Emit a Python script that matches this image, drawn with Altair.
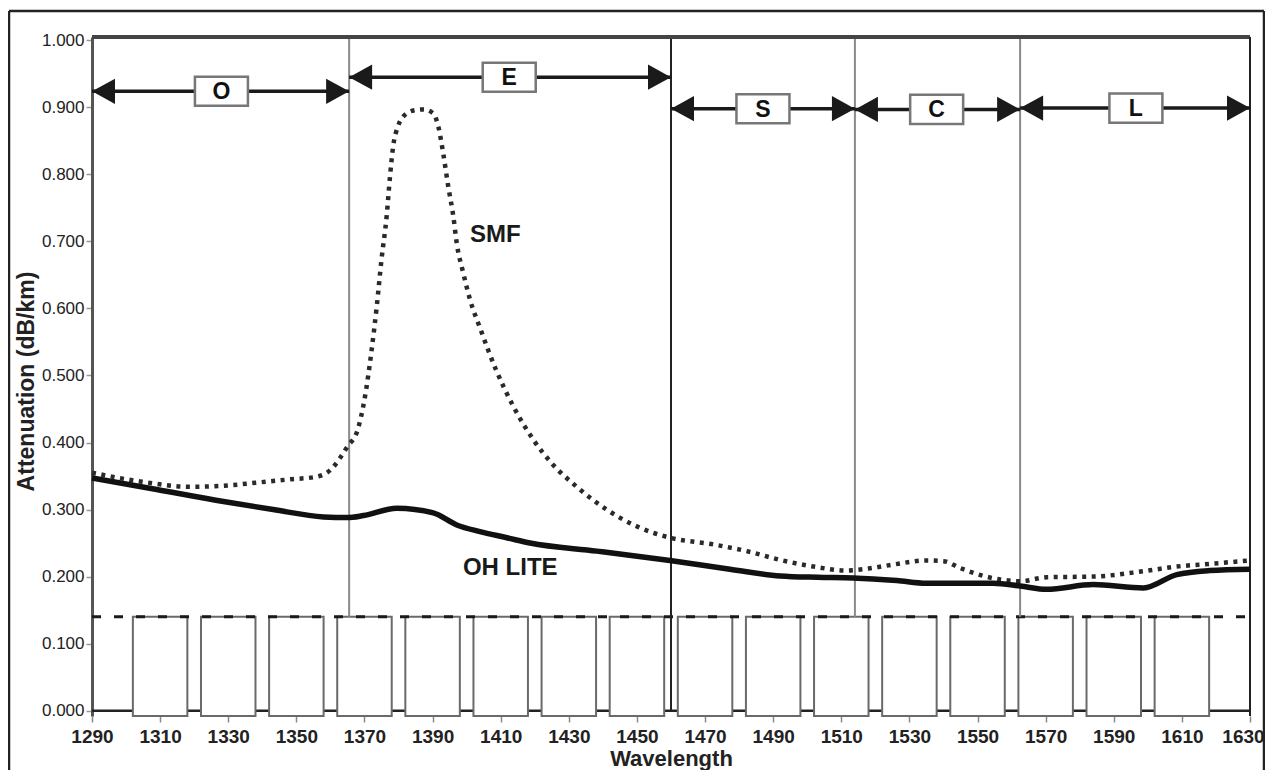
import altair as alt
import pandas as pd

# ---------------- data ----------------
x_ticks = [1290, 1310, 1330, 1350, 1370, 1390, 1410, 1430, 1450, 1470,
           1490, 1510, 1530, 1550, 1570, 1590, 1610, 1630]
y_ticks = [0.0, 0.1, 0.2, 0.3, 0.4, 0.5, 0.6, 0.7, 0.8, 0.9, 1.0]

# SMF (dotted curve)
smf_wl = [1290, 1304, 1319, 1330, 1338, 1348, 1356, 1360, 1365, 1368, 1370,
          1372, 1373.6, 1375, 1376.5, 1377.5, 1378.4, 1379.8, 1382.4, 1385,
          1387.3, 1390.2, 1391.7, 1393.1, 1394.6, 1396.1, 1397.1, 1399, 1401,
          1404, 1408.5, 1413.7, 1419.6, 1425, 1432.3, 1441.1, 1449.9, 1459.7,
          1472.4, 1482.2, 1492, 1501.8, 1511.6, 1518, 1525.3, 1535, 1540,
          1544.8, 1551.7, 1557.6, 1562.5, 1570.3, 1584, 1598.7, 1608.5,
          1618.2, 1630]
smf_att = [0.355, 0.342, 0.334, 0.336, 0.340, 0.345, 0.349, 0.359, 0.394,
           0.419, 0.464, 0.534, 0.603, 0.673, 0.737, 0.797, 0.841, 0.871,
           0.891, 0.896, 0.897, 0.891, 0.871, 0.832, 0.782, 0.737, 0.697,
           0.653, 0.613, 0.570, 0.510, 0.454, 0.404, 0.369, 0.334, 0.300,
           0.275, 0.258, 0.248, 0.238, 0.225, 0.215, 0.209, 0.212, 0.218,
           0.224, 0.223, 0.213, 0.201, 0.195, 0.193, 0.199, 0.200, 0.208,
           0.215, 0.219, 0.224]

# OH LITE (solid curve)
oh_wl = [1290, 1309, 1328.6, 1343.2, 1358, 1365, 1369.7, 1379.5, 1390.2,
         1397.1, 1403.9, 1411.8, 1418.6, 1438.2, 1459.7, 1477.3, 1492, 1503,
         1513.5, 1526.3, 1535, 1554.6, 1562.5, 1570.3, 1584, 1598.7, 1608.5,
         1618.2, 1630]
oh_att = [0.347, 0.330, 0.312, 0.300, 0.289, 0.288, 0.291, 0.302, 0.295,
          0.277, 0.267, 0.258, 0.250, 0.238, 0.224, 0.211, 0.201, 0.199,
          0.198, 0.194, 0.190, 0.190, 0.186, 0.181, 0.188, 0.183, 0.203,
          0.209, 0.211]

# spectral bands
band_names = ["O", "E", "S", "C", "L"]
band_start = [1290, 1365.5, 1460, 1514, 1562.5]
band_end = [1365.5, 1460, 1514, 1562.5, 1630]
band_level = [0.924, 0.945, 0.898, 0.897, 0.899]
band_label_wl = [1328, 1412.5, 1487, 1538, 1596.5]

# band boundary lines
boundaries = [1365.5, 1460, 1514, 1562.5]
boundary_bottom = [0.14, 0.0, 0.14, 0.14]
boundary_top = [1.005, 1.005, 1.005, 1.005]

# CWDM channels
channels = [1310, 1330, 1350, 1370, 1390, 1410, 1430, 1450, 1470, 1490,
            1510, 1530, 1550, 1570, 1590, 1610]
channel_top = 0.14

# curve labels
curve_names = ["SMF", "OH LITE"]
curve_label_wl = [1401.0, 1398.9]
curve_label_att = [0.709, 0.213]

# ---------------- styling ----------------
FONT = "Liberation Sans, Arial, Helvetica, sans-serif"
W, H = 1158, 679
X_DOMAIN = [1290, 1630]
Y_DOMAIN = [-0.008, 1.005]

xs = alt.Scale(domain=X_DOMAIN, nice=False, zero=False)
ys = alt.Scale(domain=Y_DOMAIN, nice=False, zero=False)

x_axis = alt.Axis(values=x_ticks, format="d", title="Wavelength",
                  labelFont=FONT, labelFontSize=19, labelFontWeight="bold",
                  labelColor="#222", labelPadding=5, labelFlush=False,
                  labelOverlap=False,
                  labelOffset={"condition": {"test": "datum.value == 1630", "value": -7},
                               "value": 0},
                  tickColor="#888", tickSize=6,
                  tickWidth=1.5, domain=False, grid=False,
                  titleFont=FONT, titleFontSize=22, titleFontWeight="bold",
                  titleColor="#222", titleBaseline="alphabetic", titleY=49)
y_axis = alt.Axis(values=y_ticks, format=".3f", title="Attenuation (dB/km)",
                  labelFont=FONT, labelFontSize=17, labelColor="#222",
                  labelPadding=2, labelFlush=False, labelOverlap=False,
                  tickColor="#999", tickSize=6, tickWidth=1.5,
                  domainColor="#555", domainWidth=3, grid=False,
                  titleFont=FONT, titleFontSize=23, titleFontWeight="bold",
                  titleColor="#222", titleAngle=270, titleAlign="center",
                  titleBaseline="middle", titleX=-66, titleY=344)


def X(f):
    return alt.X(f, type="quantitative", scale=xs, axis=x_axis)


def Y(f):
    return alt.Y(f, type="quantitative", scale=ys, axis=y_axis)


smf = pd.DataFrame({"wl": smf_wl, "att": smf_att})
oh = pd.DataFrame({"wl": oh_wl, "att": oh_att})
bands = pd.DataFrame({"band": band_names, "start": band_start, "end": band_end,
                      "level": band_level, "lx": band_label_wl})
bnd = pd.DataFrame({"wl": boundaries, "lo": boundary_bottom, "hi": boundary_top})
ch = pd.DataFrame({"ch": channels})
lbl = pd.DataFrame({"name": curve_names, "wl": curve_label_wl, "att": curve_label_att})
one = pd.DataFrame({"a": [0]})

# zero baseline (black), under the channel boxes
baseline = alt.Chart(pd.DataFrame({"x": [X_DOMAIN[0]], "x2": [X_DOMAIN[1]], "y": [0.0]})).mark_rule(
    color="#222", strokeWidth=2.5).encode(x=X("x"), x2=alt.X2("x2"), y=Y("y"))

# CWDM channel boxes
boxes = alt.Chart(ch).transform_calculate(
    lo="datum.ch - 8", hi="datum.ch + 8", y0=str(Y_DOMAIN[0]), y1=str(channel_top)
).mark_rect(fill="white", stroke="#6a6a6a", strokeWidth=2).encode(
    x=X("lo"), x2=alt.X2("hi"), y=Y("y0"), y2=alt.Y2("y1"))

dashed = alt.Chart(pd.DataFrame({"x": [X_DOMAIN[0]], "x2": [X_DOMAIN[1]], "y": [channel_top]})).mark_rule(
    color="#1a1a1a", strokeWidth=3, strokeDash=[9, 13]).encode(
    x=X("x"), x2=alt.X2("x2"), y=Y("y"))

# band boundaries
bounds = alt.Chart(bnd).mark_rule(strokeWidth=2).encode(
    x=X("wl"), y=Y("lo"), y2=alt.Y2("hi"),
    color=alt.condition(alt.datum.wl == 1460, alt.value("#222"), alt.value("#8a8a8a")))

# plot border (top / right)
top_border = alt.Chart(one).mark_rule(color="#444", strokeWidth=4).encode(
    x=alt.value(0), x2=alt.value(W), y=alt.value(0))
right_border = alt.Chart(one).mark_rule(color="#222", strokeWidth=2).encode(
    x=alt.value(W), y=alt.value(0), y2=alt.value(H))

# curves
smf_line = alt.Chart(smf).mark_line(
    color="#2a2a2a", strokeWidth=4.5, strokeDash=[4, 5.5], interpolate="monotone").encode(
    x=X("wl"), y=Y("att"))
oh_line = alt.Chart(oh).mark_line(
    color="#111", strokeWidth=5.5, interpolate="monotone").encode(
    x=X("wl"), y=Y("att"))

# band arrows
shafts = alt.Chart(bands).mark_rule(color="#1a1a1a", strokeWidth=3.5).encode(
    x=X("start"), x2=alt.X2("end"), y=Y("level"))
head_l = alt.Chart(bands).mark_point(
    shape="M0,0L2,-1.1L2,1.1Z", size=529, filled=True, color="#1a1a1a", opacity=1).encode(
    x=X("start"), y=Y("level"))
head_r = alt.Chart(bands).mark_point(
    shape="M0,0L-2,-1.1L-2,1.1Z", size=529, filled=True, color="#1a1a1a", opacity=1).encode(
    x=X("end"), y=Y("level"))
label_box = alt.Chart(bands).mark_point(
    shape="M-1,-0.55L1,-0.55L1,0.55L-1,0.55Z", size=2809, filled=True,
    fill="white", stroke="#777", strokeWidth=2.5, opacity=1, fillOpacity=1,
    strokeOpacity=1).encode(x=X("lx"), y=Y("level"))
label_txt = alt.Chart(bands).mark_text(
    font=FONT, fontSize=23, fontWeight="bold", color="#111",
    align="center", baseline="middle", dy=1).encode(
    x=X("lx"), y=Y("level"), text="band:N")

# curve labels
curve_txt = alt.Chart(lbl).mark_text(
    font=FONT, fontSize=24, fontWeight="bold", color="#1a1a1a",
    align="left", baseline="middle").encode(
    x=X("wl"), y=Y("att"), text="name:N")

# outer frame
frame_l = alt.Chart(one).mark_rule(color="#222", strokeWidth=2.5).encode(
    x=alt.value(-83), y=alt.value(-26), y2=alt.value(800))
frame_t = alt.Chart(one).mark_rule(color="#222", strokeWidth=2.5).encode(
    x=alt.value(-83), x2=alt.value(1172), y=alt.value(-26))
frame_r = alt.Chart(one).mark_rule(color="#222", strokeWidth=2.5).encode(
    x=alt.value(1172), y=alt.value(-26), y2=alt.value(800))

chart = alt.layer(
    baseline, boxes, dashed, bounds, top_border, right_border,
    smf_line, oh_line, shafts, label_box, head_l, head_r, label_txt,
    curve_txt, frame_l, frame_t, frame_r
).properties(
    width=W, height=H,
    padding={"left": 84, "top": 29, "right": 15, "bottom": 54},
    autosize=alt.AutoSizeParams(type="none"),
    background="white",
).configure_view(stroke="transparent")

chart.save("out.html", embed_options={"renderer": "svg", "actions": False})
